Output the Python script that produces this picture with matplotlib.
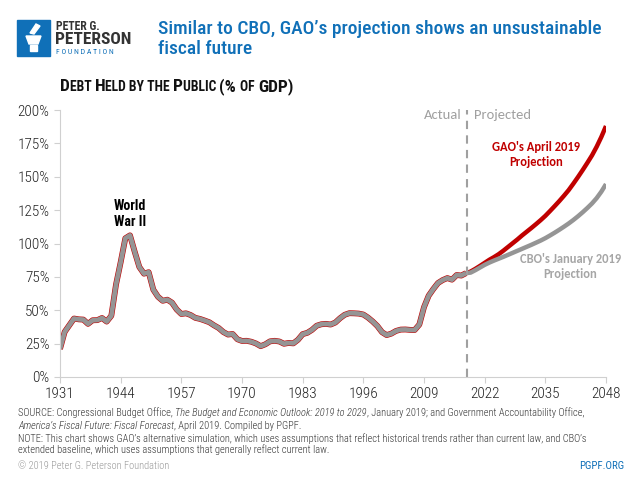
import matplotlib.pyplot as plt
from matplotlib.patches import Rectangle, Polygon
from matplotlib.ticker import FuncFormatter

# historical debt held by the public, % of GDP
hist_years = list(range(1931, 2019))
hist_vals = [21.0, 33.8, 38.8, 43.8, 43.2, 43.0, 39.8, 42.5, 42.6, 44.2,
             41.5, 45.9, 69.2, 86.0, 103.9, 106.1, 93.9, 82.4, 77.4, 78.5,
             65.4, 60.1, 57.1, 57.9, 55.7, 50.6, 47.2, 47.7, 46.4, 44.3,
             43.5, 42.3, 41.0, 38.7, 36.7, 33.7, 31.8, 32.2, 28.3, 27.0,
             27.1, 26.4, 25.1, 23.1, 24.5, 26.7, 27.1, 26.6, 24.9, 25.5,
             25.2, 27.9, 32.1, 33.1, 35.3, 38.4, 39.5, 39.8, 39.3, 40.8,
             44.0, 46.6, 47.8, 47.7, 47.5, 46.8, 44.5, 41.6, 38.2, 33.6,
             31.4, 32.5, 34.5, 35.5, 35.6, 35.3, 35.2, 39.3, 52.3, 60.9,
             65.9, 70.4, 72.6, 74.1, 72.9, 76.4, 76.0, 77.8]

# projections
proj_years = list(range(2018, 2049))
cbo_vals = [77.8, 78.2, 80.0, 82.0, 84.0, 85.7, 87.2, 88.6, 90.0, 91.5,
            93.0, 94.5, 96.0, 97.5, 99.0, 100.6, 102.2, 104.0, 106.0, 108.1,
            110.3, 112.6, 115.0, 117.6, 120.4, 123.4, 126.6, 130.0, 134.0, 138.8,
            144.5]
gao_vals = [77.8, 79.0, 81.0, 83.2, 85.5, 87.8, 89.8, 92.0, 94.6, 97.4,
            100.2, 103.0, 106.0, 108.8, 111.6, 114.5, 117.5, 120.7, 124.3, 128.0,
            131.8, 135.8, 140.0, 144.8, 149.8, 155.0, 160.4, 166.0, 172.5, 179.8,
            188.0]

x_ticks = list(range(1931, 2049, 13))
y_ticks = list(range(0, 201, 25))
split_year = 2018.3

GREY = '#959595'
RED = '#c00000'
BLUE = '#1070b8'
COND = ['Roboto Condensed', 'DejaVu Sans']
CAL = ['Carlito', 'DejaVu Sans']

fig = plt.figure(figsize=(6.4, 4.8), dpi=100)
ax = fig.add_axes([60/640, 1 - 377/480, 546/640, 267/480])

ax.plot(hist_years, hist_vals, color=RED, lw=4.2, solid_capstyle='butt')
ax.plot(proj_years, gao_vals, color=RED, lw=3.2, solid_capstyle='butt')
ax.plot(proj_years, cbo_vals, color=GREY, lw=3.2, solid_capstyle='butt')
ax.plot(hist_years, hist_vals, color=GREY, lw=3.4, solid_capstyle='butt')
ax.axvline(split_year, color='#a0a0a0', lw=1.5, ls=(0, (4, 3)))

ax.set_xlim(1931, 2048)
ax.set_ylim(0, 200)
ax.set_xticks(x_ticks)
ax.set_yticks(y_ticks)
ax.yaxis.set_major_formatter(FuncFormatter(lambda v, p: f'{v:.0f}%'))
for s in ['top', 'right']:
    ax.spines[s].set_visible(False)
for s in ['left', 'bottom']:
    ax.spines[s].set_color('#d0d0d0')
ax.tick_params(colors='#d0d0d0', length=4, labelcolor='#222222', labelsize=11)
for lab in ax.get_xticklabels() + ax.get_yticklabels():
    lab.set_family(COND)
    lab.set_fontweight('light')

# annotations
ax.text(1946, 111, 'World\nWar II', ha='center', va='bottom', fontsize=10,
        fontweight='bold', family=COND, linespacing=1.15)
ax.text(split_year - 1.3, 196.5, 'Actual', ha='right', va='center', color='#a0a0a0',
        fontsize=10.5, family=CAL)
ax.text(split_year + 1.5, 196.5, 'Projected', ha='left', va='center', color='#a0a0a0',
        fontsize=10.5, family=CAL)
ax.text(2033, 167, "GAO's April 2019\nProjection", ha='center', va='center',
        color=RED, fontsize=9, fontweight='bold', family=CAL, linespacing=1.3)
ax.text(2040.3, 83, "CBO's January 2019\nProjection", ha='center', va='center',
        color='#a6a6a6', fontsize=9, fontweight='bold', family=CAL, linespacing=1.3)

# header / logo
fig.patches.append(Rectangle((17/640, 1 - 56/480), 33/640, 36/480, transform=fig.transFigure,
                             color=BLUE))
fig.patches.append(Polygon([(26/640, 1 - 36/480), (41/640, 1 - 36/480), (38/640, 1 - 44/480),
                            (29/640, 1 - 44/480)], transform=fig.transFigure, color='white'))
fig.patches.append(Rectangle((30/640, 1 - 51/480), 7/640, 6/480, transform=fig.transFigure,
                             color='white'))
fig.patches.append(Polygon([(30/640, 1 - 33/480), (36/640, 1 - 24/480), (40/640, 1 - 26/480),
                            (34/640, 1 - 34/480)], transform=fig.transFigure, color='white'))
fig.text(56/640, 1 - 30/480, 'PETER G.', fontsize=8.5, fontweight='bold', color='#333333',
         family=COND, va='baseline')
fig.text(55/640, 1 - 44/480, 'PETERSON', fontsize=12.5, fontweight='bold', color='#333333',
         family=COND, va='baseline')
fig.text(56/640, 1 - 54/480, 'F O U N D A T I O N', fontsize=5.6, color=BLUE,
         family=COND, va='baseline')
fig.text(158/640, 1 - 34/480, "Similar to CBO, GAO\u2019s projection shows an unsustainable",
         fontsize=14, color=BLUE, family=COND, fontweight='medium', va='baseline')
fig.text(158/640, 1 - 54/480, 'fiscal future', fontsize=14, color=BLUE, family=COND,
         fontweight='medium', va='baseline')

renderer = fig.canvas.get_renderer()


def runs(x, y, parts, **kw):
    for s, extra in parts:
        t = fig.text(x, y, s, va='baseline', **kw, **extra)
        x += t.get_window_extent(renderer).width / fig.bbox.width


big = dict(fontsize=12.5)
small = dict(fontsize=9.8)
runs(60/640, 1 - 91/480, [('D', big), ('EBT ', small), ('H', big), ('ELD BY THE ', small),
                          ('P', big), ('UBLIC ', small), ('(% ', big), ('OF ', small),
                          ('GDP)', big)],
     fontweight='bold', family=COND, color='#111111')

note = dict(fontsize=7.5, family=COND, color='#333333', fontweight='light')
it = dict(style='italic')
no = dict()
runs(18/640, 1 - 416/480, [('SOURCE: Congressional Budget Office, ', no),
                           ('The Budget and Economic Outlook: 2019 to 2029', it),
                           (', January 2019; and Government Accountability Office,', no)], **note)
runs(18/640, 1 - 429/480, [('America\u2019s Fiscal Future: Fiscal Forecast', it),
                           (', April 2019. Compiled by PGPF.', no)], **note)
fig.text(18/640, 1 - 442/480, 'NOTE: This chart shows GAO\u2019s alternative simulation, which uses '
         'assumptions that reflect historical trends rather than current law, and CBO\u2019s',
         va='baseline', **note)
fig.text(18/640, 1 - 453/480, 'extended baseline, which uses assumptions that generally reflect '
         'current law.', va='baseline', **note)
fig.text(18/640, 1 - 469/480, '\u00a9 2019 Peter G. Peterson Foundation', va='baseline',
         fontsize=7.5, family=COND, fontweight='light', color='#999999')
fig.text(624/640, 1 - 469/480, 'PGPF.ORG', va='baseline', ha='right', fontsize=7.8,
         family=COND, color=BLUE)

fig.savefig('out.png', dpi=100)
